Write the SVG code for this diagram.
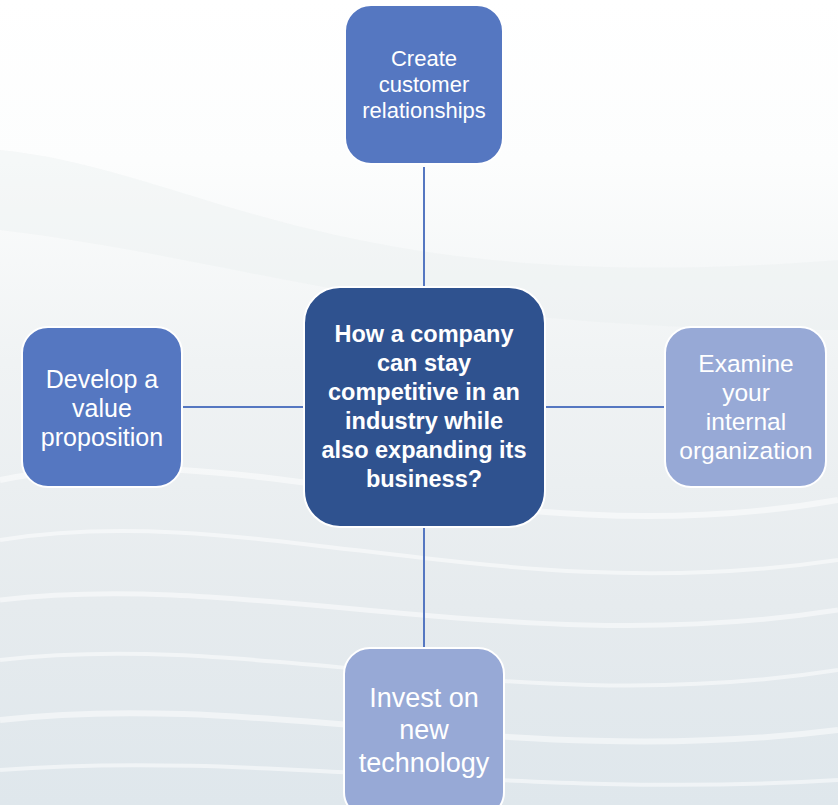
<svg xmlns="http://www.w3.org/2000/svg" width="838" height="805" viewBox="0 0 838 805">
<defs>
<linearGradient id="bg" x1="0" y1="0" x2="0" y2="1">
<stop offset="0" stop-color="#ffffff"/>
<stop offset="0.2" stop-color="#fcfdfd"/>
<stop offset="0.45" stop-color="#f0f3f4"/>
<stop offset="0.75" stop-color="#e6ebee"/>
<stop offset="1" stop-color="#dfe7ec"/>
</linearGradient>
<style>
.conn{stroke:#5577c1;stroke-width:2;fill:none}
.box{stroke:#ffffff;stroke-width:2}
.mid{fill:#5577c1}
.light{fill:#97a9d6}
.dark{fill:#2f528f}
.t{fill:#ffffff;font-family:"Liberation Sans",Arial,sans-serif;text-anchor:middle}
.b{font-weight:bold}
.wave{fill:none;stroke:#ffffff;stroke-opacity:0.5}
</style>
</defs>
<rect x="0" y="0" width="838" height="805" fill="url(#bg)"/>
<g id="background-waves">
<path d="M0 150 C200 170 330 300 838 260 L838 330 C400 330 250 260 0 230 Z" fill="#e9edef" opacity="0.35"/>
<path d="M0 480 C250 430 500 560 838 500" class="wave" stroke-width="6"/>
<path d="M0 540 C250 500 500 610 838 560" class="wave" stroke-width="4"/>
<path d="M0 600 C250 570 520 660 838 610" class="wave" stroke-width="5"/>
<path d="M0 660 C260 630 520 720 838 670" class="wave" stroke-width="4"/>
<path d="M0 720 C260 690 520 770 838 730" class="wave" stroke-width="6"/>
<path d="M0 770 C260 750 520 800 838 780" class="wave" stroke-width="4"/>
</g>
<g id="connectors">
<line class="conn" x1="424" y1="167" x2="424" y2="286"/>
<line class="conn" x1="424" y1="528" x2="424" y2="647"/>
<line class="conn" x1="183" y1="407" x2="303" y2="407"/>
<line class="conn" x1="546" y1="407" x2="664" y2="407"/>
</g>
<g id="node-top">
<rect class="box mid" x="345" y="5" width="158" height="159" rx="26"/>
<text class="t" font-size="22" x="424" y="66">Create</text>
<text class="t" font-size="22" x="424" y="92">customer</text>
<text class="t" font-size="22" x="424" y="118">relationships</text>
</g>
<g id="node-center">
<rect class="box dark" x="304" y="287" width="241" height="240" rx="36"/>
<text class="t b" font-size="23.5" x="424" y="342">How a company</text>
<text class="t b" font-size="23.5" x="424" y="371">can stay</text>
<text class="t b" font-size="23.5" x="424" y="400">competitive in an</text>
<text class="t b" font-size="23.5" x="424" y="429">industry while</text>
<text class="t b" font-size="23.5" x="424" y="458">also expanding its</text>
<text class="t b" font-size="23.5" x="424" y="487">business?</text>
</g>
<g id="node-left">
<rect class="box mid" x="22" y="327" width="160" height="160" rx="26"/>
<text class="t" font-size="25" x="102" y="388">Develop a</text>
<text class="t" font-size="25" x="102" y="417">value</text>
<text class="t" font-size="25" x="102" y="446">proposition</text>
</g>
<g id="node-right">
<rect class="box light" x="665" y="327" width="161" height="160" rx="26"/>
<text class="t" font-size="24.5" x="746" y="372">Examine</text>
<text class="t" font-size="24.5" x="746" y="401">your</text>
<text class="t" font-size="24.5" x="746" y="430">internal</text>
<text class="t" font-size="24.5" x="746" y="459">organization</text>
</g>
<g id="node-bottom">
<rect class="box light" x="344" y="648" width="160" height="170" rx="26"/>
<text class="t" font-size="27" x="424" y="707">Invest on</text>
<text class="t" font-size="27" x="424" y="739">new</text>
<text class="t" font-size="27" x="424" y="772">technology</text>
</g>
</svg>
